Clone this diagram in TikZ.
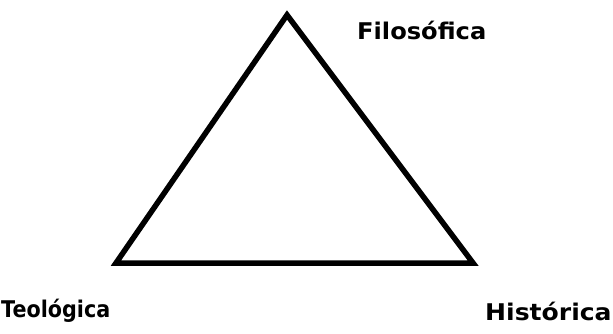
\documentclass[tikz,border=0pt]{standalone}
\usepackage{fontspec}
\usepackage{graphicx}
\setmainfont{DejaVu Sans}
\begin{document}
\begin{tikzpicture}[x=1pt,y=-1pt,
  lbl/.style={font=\fontsize{23}{25}\selectfont\bfseries, inner sep=0pt},
  edge/.style={line width=5.5pt, line join=miter, line cap=rect}]
\useasboundingbox (0,0) rectangle (613,333);
\coordinate (top) at (287,15);
\coordinate (bl) at (116,263);
\coordinate (br) at (473,263);
\draw[edge] (top) -- (br) -- (bl) -- cycle;
\node[lbl, anchor=west] (filo) at (357,30) {\scalebox{1.05}[1]{Filosófica}};
\node[lbl, anchor=west] (teo) at (1,311) {\scalebox{0.9}[1]{Teológica}};
\node[lbl, anchor=west] (his) at (485,311) {\scalebox{1.09}[1]{Histórica}};
\end{tikzpicture}
\end{document}
